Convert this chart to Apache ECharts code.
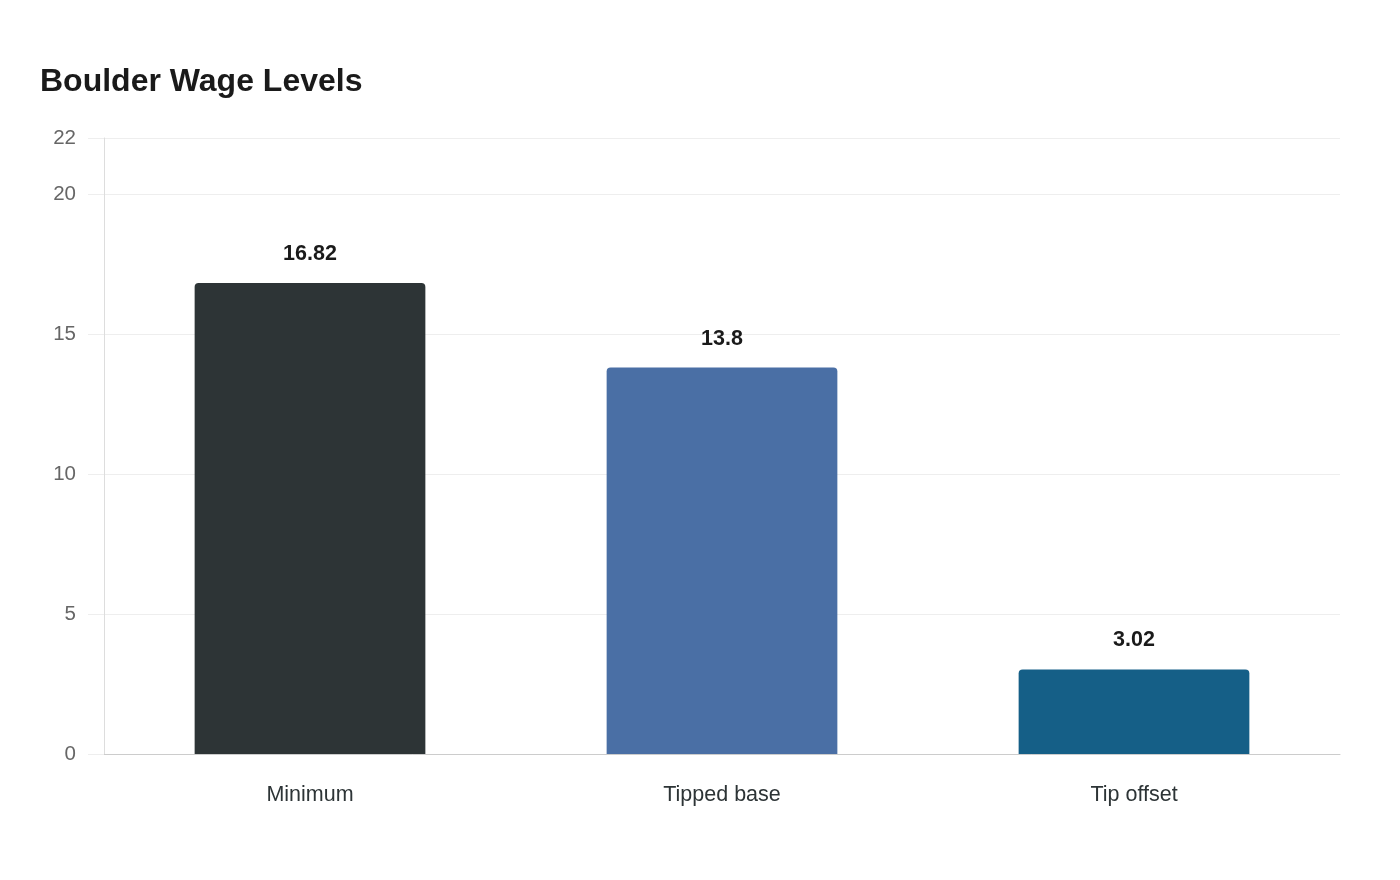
<!DOCTYPE html>
<html>
<head>
<meta charset="utf-8">
<script src="https://cdn.jsdelivr.net/npm/echarts@6/dist/echarts.min.js"></script>
<style>
  html, body { margin: 0; padding: 0; background: #fff; }
  #chart { width: 1400px; height: 880px; }
</style>
</head>
<body>
<div id="chart"></div>
<script>
const categories = ['Minimum', 'Tipped base', 'Tip offset'];
const wages = [16.82, 13.8, 3.02];
const barColors = ['#2d3436', '#4a6fa5', '#155f87'];

const FONT = 'Arial, "Liberation Sans", sans-serif';

const chart = echarts.init(document.getElementById('chart'));

chart.setOption({
  backgroundColor: '#ffffff',
  textStyle: { fontFamily: FONT },
  title: {
    text: 'Boulder Wage Levels',
    left: 35,
    top: 61,
    textStyle: {
      fontFamily: FONT,
      fontSize: 32,
      fontWeight: 'bold',
      color: '#1a1a1a'
    }
  },
  grid: {
    left: 104,
    right: 60,
    top: 138,
    bottom: 126
  },
  xAxis: {
    type: 'category',
    data: categories,
    axisLine: { lineStyle: { color: '#cccccc' } },
    axisTick: { show: false },
    axisLabel: {
      margin: 30,
      fontFamily: FONT,
      fontSize: 21.5,
      color: '#2d3436'
    }
  },
  yAxis: {
    type: 'value',
    min: 0,
    max: 22,
    interval: 5,
    axisLine: { show: true, lineStyle: { color: '#dddddd' } },
    axisTick: { show: true, length: 16, lineStyle: { color: '#eeeeee' } },
    splitLine: { lineStyle: { color: '#eeeeee' } },
    axisLabel: {
      margin: 28,
      fontFamily: FONT,
      fontSize: 20.5,
      color: '#666666'
    }
  },
  series: [{
    type: 'bar',
    barWidth: '56%',
    data: wages.map((v, i) => ({
      value: v,
      itemStyle: { color: barColors[i] }
    })),
    itemStyle: { borderRadius: [4, 4, 0, 0] },
    label: {
      show: true,
      position: 'top',
      distance: 18,
      fontFamily: FONT,
      fontSize: 21.5,
      fontWeight: 'bold',
      color: '#1a1a1a'
    }
  }]
});
</script>
</body>
</html>
